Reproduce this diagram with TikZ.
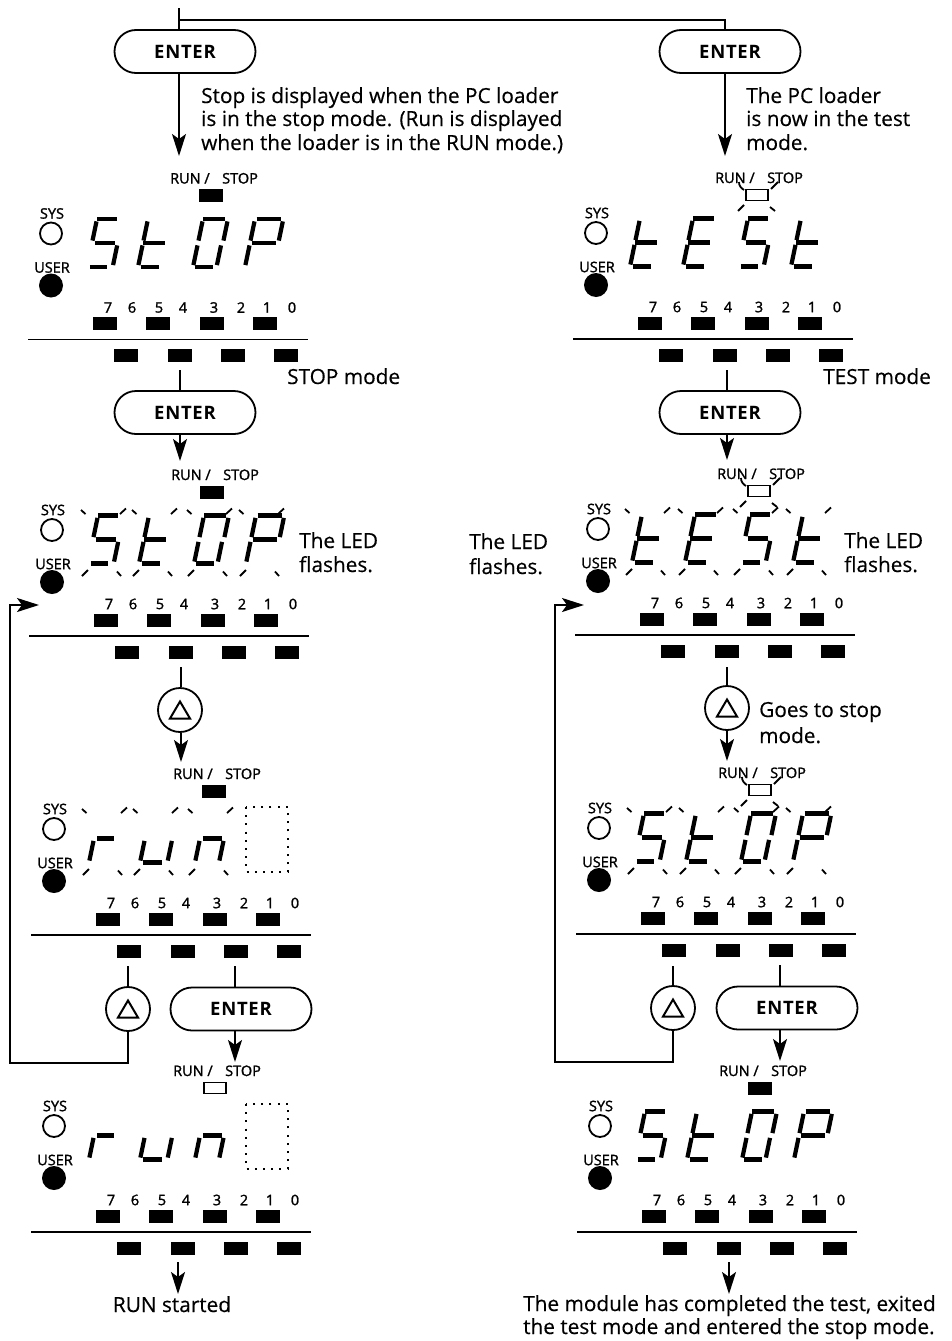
\documentclass[tikz,border=0pt]{standalone}
\usepackage{fontspec}
\setmainfont[FakeBold=0.4]{Open Sans}
\newfontfamily\labfont[FakeBold=1.5]{Open Sans}
\newfontfamily\entfont[LetterSpace=4]{Open Sans Bold}
\usetikzlibrary{arrows.meta,shapes.misc}
\tikzset{
  cn/.style={line width=1.8pt,black},
  arr/.style={cn,-{Stealth[length=22pt,width=14pt,inset=5pt]}},
  pill/.style={draw,line width=1.8pt,rounded rectangle,minimum width=141pt,minimum height=43pt,inner sep=0pt,font=\fontsize{18.5}{18.5}\entfont},
  circbtn/.style={draw,circle,line width=1.8pt,minimum size=44pt,inner sep=0pt},
  ledon/.style={draw=none,fill=black,minimum width=24pt,minimum height=13pt,inner sep=0pt},
  ledbox/.style={draw,fill=white,line width=1.8pt,minimum width=22pt,minimum height=11pt,inner sep=0pt},
  lab/.style={inner sep=0pt,font=\fontsize{14.5}{14.5}\labfont},
  bt/.style={inner sep=0pt,anchor=base west,font=\fontsize{20.8}{20.8}\selectfont},
  sg/.style={line width=4.2pt,black},
  tk/.style={line width=1.8pt,black},
}
% generic segments in slanted digit space: two end parameters
\newcommand\hseg[3]{\draw[sg] (#2,#1)--(#3,#1);}
\newcommand\vup[1]{\draw[sg] (#1,.55)--(#1,.95);}
\newcommand\vlo[1]{\draw[sg] (#1,.04)--(#1,.45);}
\newcommand\chS{\hseg{1}{0}{.83}\vup{0}\hseg{.5}{.12}{.96}\vlo{1.07}\hseg{0}{.12}{.83}}
\newcommand\chT{\vup{0}\vlo{0}\hseg{.5}{.02}{.9}\hseg{0}{.14}{.87}}
\newcommand\chO{\hseg{1}{0}{.9}\vup{0}\vup{1.04}\vlo{0}\vlo{.98}\hseg{0}{.1}{.85}}
\newcommand\chP{\hseg{1}{.07}{1.1}\vup{0}\vup{1.18}\hseg{.5}{.07}{1.1}\vlo{0}}
\newcommand\chE{\hseg{1}{0}{.88}\vup{0}\hseg{.5}{.02}{.9}\vlo{0}\hseg{0}{.14}{.87}}
\newcommand\chR{\vlo{0}\hseg{.5}{.14}{.82}}
\newcommand\chU{\vlo{0}\hseg{0}{.13}{.9}\vlo{1.14}}
\newcommand\chN{\vlo{0}\hseg{.5}{.12}{.92}\vlo{1}}
% plain digit
\newcommand\dg[2]{\begin{scope}[shift={(#1,-72.5)},x={(24pt,0pt)},y={(10pt,48pt)}]#2\end{scope}}
% flashing digit
\newcommand\dgf[2]{\begin{scope}[shift={(#1,-72.5)},x={(24pt,0pt)},y={(10pt,48pt)}]#2
  \draw[tk] (-7pt,53.5pt)--(-2.5pt,49.5pt);
  \draw[tk] (32pt,49.5pt)--(38pt,55pt);
  \draw[tk] (-6pt,-12.5pt)--(0pt,-6.5pt);
  \draw[tk] (29pt,-8pt)--(33pt,-12.5pt);
\end{scope}}
\newcommand\ledblack{\node[ledon] (\pn-led) at (183,-144) {};}
\newcommand\ledopen{\node[ledbox] (\pn-led) at (184,-144) {};}
\newcommand\ledrays{\node[ledbox] (\pn-led) at (184,-144) {};
  \draw[tk] (166,-157) .. controls (166,-153) and (168,-151) .. (171,-149);
  \draw[tk] (205,-157) -- (198,-150);
  \draw[tk] (165,-128) -- (171,-134);
  \draw[tk] (202,-128) -- (197,-132);}
\newcommand\blank{\draw[line width=2pt,dash pattern=on 2pt off 6.2pt] (215,-128) rectangle (257,-63);}
\newcommand\dpanel[4]{\def\pn{#1}\begin{scope}[shift={(#2,#3)}]
  \node[lab,anchor=base west] (#1-run) at (142,-156) {RUN /};
  \node[lab,anchor=base west] (#1-stop) at (194,-156) {STOP};
  \node[lab] (#1-sys) at (24,-126) {SYS};
  \node[draw,circle,line width=1.8pt,minimum size=22pt,inner sep=0pt] (#1-sysled) at (23,-106) {};
  \node[lab] (#1-user) at (24,-72) {USER};
  \node[fill=black,circle,minimum size=24pt,inner sep=0pt] (#1-userled) at (23,-54) {};
  #4
  \foreach \t/\x in {7/80,6/104,5/131,4/155,3/186,2/213,1/239,0/264}
    \node[lab] (#1-n\t) at (\x,-32) {\t};
  \foreach \x in {77,130,184,237}
    \node[ledon] (#1-t\x) at (\x,-16) {};
  \coordinate (#1-ls) at (0,0);
  \coordinate (#1-le) at (280,0);
  \draw[line width=1.8pt] (#1-ls) -- (#1-le);
  \foreach \x in {98,152,205,258}
    \node[ledon] (#1-b\x) at (\x,16) {};
\end{scope}}
\begin{document}
\begin{tikzpicture}[x=1pt,y=-1pt]
\useasboundingbox (0,0) rectangle (951,1341);
\fill[white] (0,0) rectangle (951,1341);

% panels
\dpanel{La}{28}{339.5}{\ledblack\dg{59}{\chS}\dg{110}{\chT}\dg{165}{\chO}\dg{217}{\chP}}
\dpanel{Lb}{29}{636}{\ledblack\dgf{59}{\chS}\dgf{110}{\chT}\dgf{165}{\chO}\dgf{217}{\chP}}
\dpanel{Lc}{31}{935}{\ledblack\dgf{58}{\chR}\dgf{109}{\chU}\dgf{164}{\chN}\blank}
\dpanel{Ld}{31}{1232}{\ledopen\dg{58}{\chR}\dg{109}{\chU}\dg{164}{\chN}\blank}
\dpanel{Ra}{573}{339}{\ledrays\dg{57}{\chT}\dg{110}{\chE}\dg{165}{\chS}\dg{218}{\chT}}
\dpanel{Rb}{575}{635}{\ledrays\dgf{57}{\chT}\dgf{110}{\chE}\dgf{165}{\chS}\dgf{218}{\chT}}
\dpanel{Rc}{576}{934}{\ledrays\dgf{58}{\chS}\dgf{110}{\chT}\dgf{165}{\chO}\dgf{217}{\chP}}
\dpanel{Rd}{577}{1232}{\ledblack\dg{58}{\chS}\dg{110}{\chT}\dg{165}{\chO}\dg{217}{\chP}}

% buttons
\node[pill] (e1) at (185,51.5) {ENTER};
\node[pill] (e2) at (730,51.5) {ENTER};
\node[pill] (e3) at (185,412.5) {ENTER};
\node[pill] (e4) at (730,412.5) {ENTER};
\node[pill] (e5) at (241,1009) {ENTER};
\node[pill] (e6) at (787,1008) {ENTER};
\newcommand\tri{\tikz[x=1pt,y=-1pt]\draw[line width=2pt,line join=miter] (0,17)--(20,17)--(10,0)--cycle;}
\node[circbtn] (c1) at (180,710) {\tri};
\node[circbtn] (c2) at (727,708) {\tri};
\node[circbtn] (c3) at (128,1009) {\tri};
\node[circbtn] (c4) at (673,1008) {\tri};

% connectors
\coordinate (top1) at (179,8);
\coordinate (topr) at (179,20);
\coordinate (topc) at (725,20);
\coordinate (a1) at (179,156);
\coordinate (a2) at (725,156);
\draw[cn] (top1) -- (top1 |- e1.north);
\draw[cn] (topr) -- (topc) -- (topc |- e2.north);
\draw[arr] (a1 |- e1.south) -- (a1);
\draw[arr] (a2 |- e2.south) -- (a2);
\coordinate (s3) at (180,370);
\coordinate (t3) at (180,461);
\draw[cn] (s3) -- (s3 |- e3.north);
\draw[arr] (t3 |- e3.south) -- (t3);
\coordinate (s4) at (727,370);
\coordinate (t4) at (727,460);
\draw[cn] (s4) -- (s4 |- e4.north);
\draw[arr] (t4 |- e4.south) -- (t4);
\coordinate (s5) at (181,667);
\coordinate (t5) at (181,762);
\draw[cn] (s5) -- (s5 |- c1.north);
\draw[arr] (t5 |- c1.south) -- (t5);
\coordinate (s6) at (727,667);
\coordinate (t6) at (727,761);
\draw[cn] (s6) -- (c2.north);
\draw[arr] (c2.south) -- (t6);
\coordinate (s7) at (128,966);
\draw[cn] (s7) -- (c3.north);
\coordinate (s8) at (235,966);
\coordinate (t8) at (235,1062);
\draw[cn] (s8) -- (s8 |- e5.north);
\draw[arr] (t8 |- e5.south) -- (t8);
\coordinate (s9) at (673,966);
\draw[cn] (s9) -- (c4.north);
\coordinate (s10) at (780,965);
\coordinate (t10) at (780,1061);
\draw[cn] (s10) -- (s10 |- e6.north);
\draw[arr] (t10 |- e6.south) -- (t10);
% return loops
\coordinate (lb) at (10,1063);
\coordinate (lt) at (10,605);
\coordinate (lh) at (39,605);
\draw[arr] (c3.south) |- (lb) -- (lt) -- (lh);
\coordinate (rb) at (555,1062);
\coordinate (rt) at (555,605);
\coordinate (rh) at (584,605);
\draw[arr] (c4.south) |- (rb) -- (rt) -- (rh);
% exits
\coordinate (x1s) at (178,1262);
\coordinate (x1t) at (178,1294);
\draw[arr] (x1s) -- (x1t);
\coordinate (x2s) at (729,1262);
\coordinate (x2t) at (729,1294);
\draw[arr] (x2s) -- (x2t);

% texts
\node[bt] (t1a) at (201,103) {Stop is displayed when the PC loader};
\node[bt] (t1b) at (201,126) {is in the stop mode. (Run is displayed};
\node[bt] (t1c) at (201,150) {when the loader is in the RUN mode.)};
\node[bt] (t2a) at (746,103) {The PC loader};
\node[bt] (t2b) at (746,126) {is now in the test};
\node[bt] (t2c) at (746,150) {mode.};
\node[bt] (t3a) at (287,384) {STOP mode};
\node[bt] (t4a) at (823,384) {TEST mode};
\node[bt] (t5a) at (299,548) {The LED};
\node[bt] (t5b) at (299,572) {flashes.};
\node[bt] (t6a) at (469,549) {The LED};
\node[bt] (t6b) at (469,574) {flashes.};
\node[bt] (t7a) at (844,548) {The LED};
\node[bt] (t7b) at (844,572) {flashes.};
\node[bt] (t8a) at (759,717) {Goes to stop};
\node[bt] (t8b) at (759,743) {mode.};
\node[bt,anchor=base] (t9a) at (172,1312) {RUN started};
\node[bt] (t10a) at (523,1311) {The module has completed the test, exited};
\node[bt] (t10b) at (523,1334) {the test mode and entered the stop mode.};
\end{tikzpicture}
\end{document}
